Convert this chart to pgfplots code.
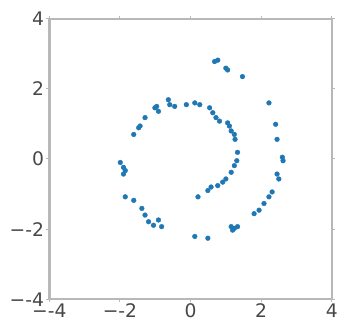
\documentclass[border=0pt]{standalone}
\usepackage{pgfplots}
\pgfplotsset{compat=1.18}
\usepackage{fontspec}
\setmainfont{DejaVu Sans}
\definecolor{mplblue}{HTML}{1F77B4}
\begin{document}
\begin{tikzpicture}
\begin{axis}[
  at={(0,0)}, anchor=south west,
  scale only axis,
  width=286bp, height=284bp,
  xmin=-4, xmax=4, ymin=-4, ymax=4,
  xtick={-4,-2,0,2,4}, ytick={-4,-2,0,2,4},
  tick align=outside,
  tick style={color=gray!55, line width=1pt},
  major tick length=3bp,
  axis line style={color=black!28, line width=2.5bp},
  /pgf/number format/assume math mode=true,
  ticklabel style={font=\fontsize{19}{21}\selectfont, color=black!72},
  xticklabel style={yshift=2bp},
  yticklabel style={xshift=1bp},
  xticklabel={\ifdim\tick pt<0pt \textminus\pgfmathprintnumber[print sign=false]{\tick}\else\pgfmathprintnumber{\tick}\fi},
  yticklabel={\ifdim\tick pt<0pt \textminus\pgfmathprintnumber[print sign=false]{\tick}\else\pgfmathprintnumber{\tick}\fi},
  clip=false,
]
\addplot[only marks, mark=*, mark size=2.4bp, color=mplblue, mark options={draw=none, fill=mplblue}] coordinates {
(0.68,2.78) (0.77,2.82) (1.00,2.59) (1.05,2.54) (1.47,2.35)
(2.22,1.60) (2.41,0.99) (2.45,0.56) (2.60,0.05) (2.62,-0.05)
(2.45,-0.43) (2.50,-0.57) (2.31,-0.94) (2.22,-1.08) (2.08,-1.27)
(1.94,-1.46) (1.80,-1.56) (1.15,-1.93) (1.24,-1.98) (1.19,-2.03) (1.33,-1.93)
(0.12,-2.21) (0.49,-2.26)
(-1.61,0.70) (-1.47,0.89) (-1.43,0.94) (-1.29,1.18) (-1.01,1.46) (-0.91,1.36)
(-0.96,1.50) (-0.63,1.69) (-0.59,1.55) (-0.45,1.50) (-0.12,1.55) (0.12,1.60)
(0.26,1.55) (0.54,1.46) (0.63,1.32) (0.72,1.18) (0.82,1.08) (1.05,1.03)
(1.10,0.94) (1.15,0.80) (1.24,0.70) (1.26,0.56) (1.33,0.19) (1.31,-0.05)
(1.24,-0.19) (1.15,-0.38) (1.00,-0.57) (0.91,-0.66) (0.77,-0.76) (0.58,-0.80)
(0.49,-0.90) (0.21,-1.08)
(-1.99,-0.10) (-1.90,-0.24) (-1.85,-0.33) (-1.90,-0.43)
(-1.85,-1.08) (-1.61,-1.18) (-1.38,-1.41) (-1.29,-1.60) (-1.19,-1.79)
(-1.05,-1.89) (-0.91,-1.74) (-0.82,-1.93)
};
\end{axis}
\path[use as bounding box] (-50bp,-24bp) rectangle (291bp,303bp);
\end{tikzpicture}
\end{document}
